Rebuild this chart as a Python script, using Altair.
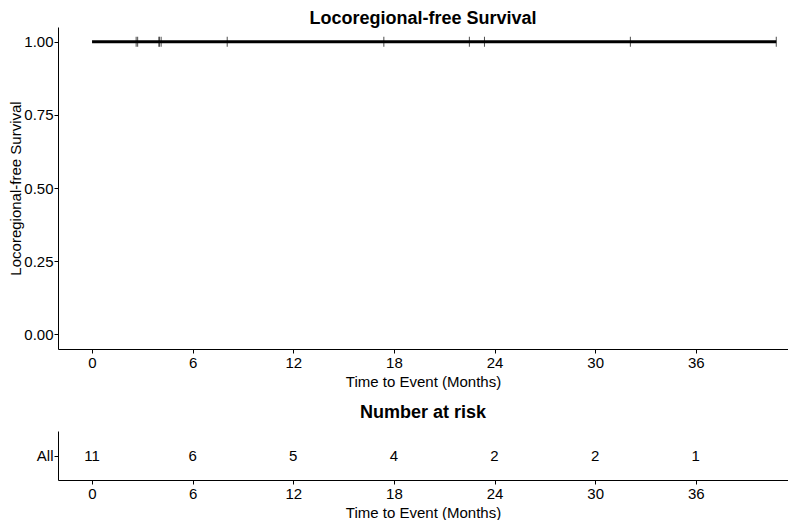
import altair as alt
import pandas as pd

# ---- data ----
line_time = [0.0, 40.8]
line_surv = [1.0, 1.0]
censor_time = [2.63, 2.72, 4.0, 4.0, 4.12, 8.06, 17.4, 22.5, 23.4, 32.1, 40.8]
risk_time = [0, 6, 12, 18, 24, 30, 36]
risk_count = [11, 6, 5, 4, 2, 2, 1]
strata_label = "All"
x_ticks = [0, 6, 12, 18, 24, 30, 36]
y_ticks = [0.0, 0.25, 0.5, 0.75, 1.0]

line_df = pd.DataFrame({"time": line_time, "surv": line_surv})
cens_df = pd.DataFrame({"time": censor_time, "surv": [1.0] * len(censor_time)})
risk_df = pd.DataFrame({"time": risk_time, "n": risk_count, "strata": [strata_label] * len(risk_time)})

FONT = "Liberation Sans"
xscale = alt.Scale(domain=[-2.03, 41.5], nice=False, zero=False)

x_axis = alt.Axis(values=x_ticks, title="Time to Event (Months)", labelPadding=2, titlePadding=4)

line = alt.Chart(line_df).mark_line(color="black", strokeWidth=3, interpolate="step-after").encode(
    x=alt.X("time:Q", scale=xscale, axis=x_axis),
    y=alt.Y("surv:Q", scale=alt.Scale(domain=[-0.05, 1.05], nice=False, zero=False),
            axis=alt.Axis(values=y_ticks, format=".2f", title="Locoregional-free Survival",
                          labelPadding=1, titlePadding=0)),
)
cens = alt.Chart(cens_df).mark_tick(color="black", thickness=1, size=10, orient="vertical").encode(
    x=alt.X("time:Q", scale=xscale),
    y=alt.Y("surv:Q"),
)
top = alt.layer(line, cens).properties(
    width=730, height=322,
    title=alt.TitleParams("Locoregional-free Survival", anchor="middle", fontSize=18,
                          fontWeight="bold", font=FONT, offset=-1, color="black"),
)

table = alt.Chart(risk_df).mark_text(fontSize=15, font=FONT, color="black").encode(
    x=alt.X("time:Q", scale=xscale, axis=x_axis),
    y=alt.Y("strata:N", axis=alt.Axis(title=None, labelPadding=1)),
    text="n:Q",
).properties(
    width=730, height=49,
    title=alt.TitleParams("Number at risk", anchor="middle", fontSize=18,
                          fontWeight="bold", font=FONT, offset=9, color="black"),
)

chart = alt.vconcat(top, table, spacing=15).properties(
    padding={"top": 2, "left": 0, "right": 0, "bottom": 0}
).configure_view(stroke=None).configure_axis(
    grid=False, domainColor="black", domainWidth=1, tickColor="black", tickSize=4,
    labelFont=FONT, labelFontSize=15, labelColor="black",
    titleFont=FONT, titleFontSize=15, titleColor="black", titleFontWeight="normal",
)

chart.save("out.html", embed_options={"renderer": "svg", "actions": False})
